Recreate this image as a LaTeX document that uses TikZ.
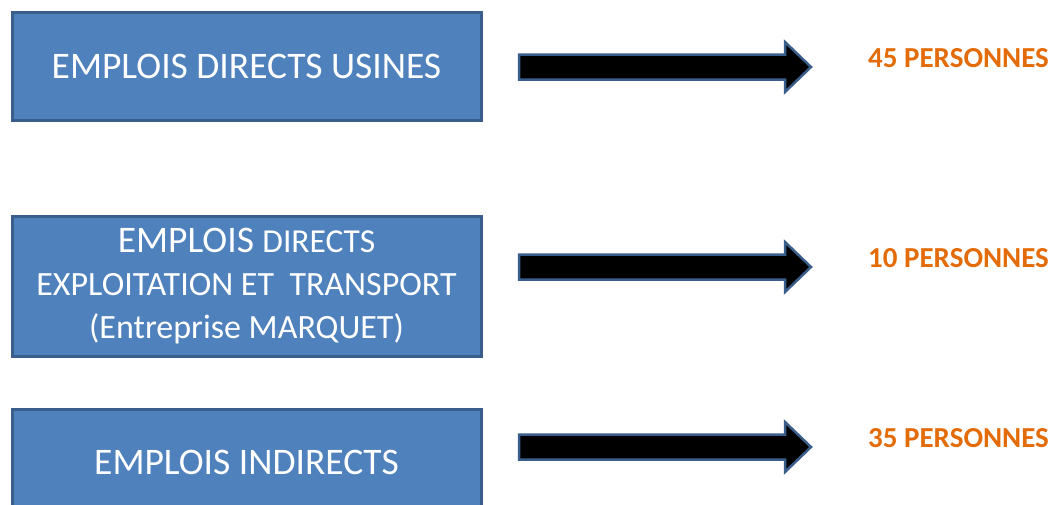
\documentclass[tikz,border=0pt]{standalone}
\usepackage{fontspec}
\setmainfont{Carlito}
\usepackage{tikz}
\usetikzlibrary{positioning, calc}
\definecolor{boxblue}{RGB}{79,129,189}
\definecolor{edgeblue}{RGB}{58,94,140}
\definecolor{countorange}{RGB}{227,108,9}

\begin{document}
\begin{tikzpicture}[
    x=1pt, y=1pt,
    node distance=50pt,
    box/.style={draw=edgeblue, line width=3pt, fill=boxblue, text=white, minimum width=469pt, align=center, inner sep=0pt, font=\fontsize{37.5}{43}\selectfont},
    count/.style={text=countorange, inner sep=0pt, font=\fontsize{29}{33}\selectfont\bfseries},
    blockarr/.style={draw=edgeblue, line width=2.5pt, fill=black, line join=miter}
]
\useasboundingbox (0,0) rectangle (1053,-504);

\node[box, minimum height=108pt] (usines) at (246.5,-66) {EMPLOIS DIRECTS USINES};
\node[box, minimum height=140pt, below=93pt of usines] (exploit) {EMPLOIS {\fontsize{33.5}{43}\selectfont DIRECTS}\\
  {\fontsize{34}{43}\selectfont EXPLOITATION ET\ \ TRANSPORT}\\
  {\fontsize{34}{43}\selectfont (Entreprise MARQUET)}};
\node[box, minimum height=106pt, below=of exploit] (indirects) {EMPLOIS INDIRECTS};

% block arrows and head counts
\foreach \n/\y in {45/67, 10/267, 35/447} {
  \coordinate (from\n) at (519,-\y);
  \coordinate (to\n) at (811,-\y);
  \draw[blockarr] ($(from\n)+(0,12.5)$) -- ($(to\n)+(-26,12.5)$) -- ++(0,12.5) -- (to\n)
    -- ++(-26,-25) -- ++(0,12.5) -- ($(from\n)+(0,-12.5)$) -- cycle;
  \node[count, right=57pt of to\n, yshift=9pt] (n\n) {\n\ PERSONNES};
}

\end{tikzpicture}
\end{document}
